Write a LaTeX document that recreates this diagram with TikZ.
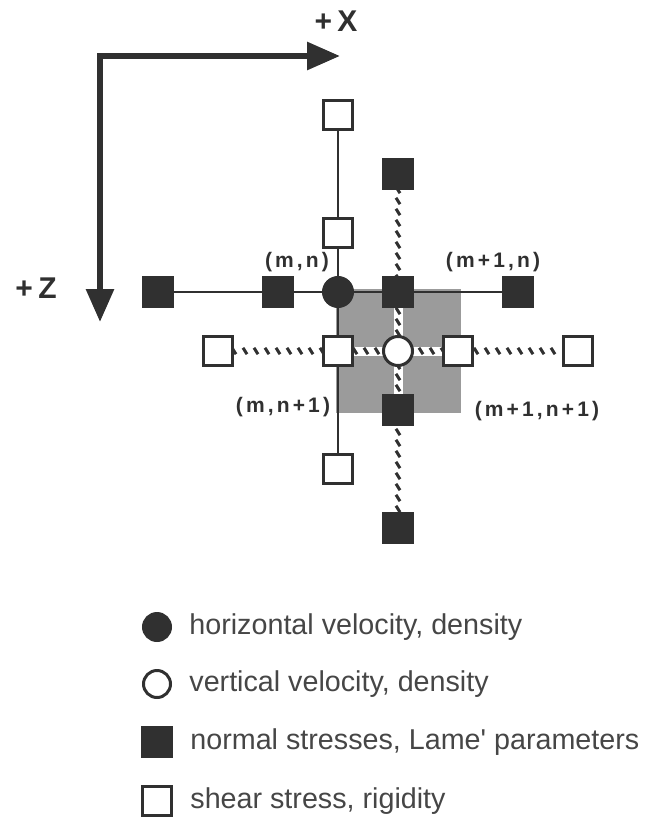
\documentclass[tikz,border=0pt]{standalone}
\usepackage{fontspec}
\setmainfont{Liberation Sans}
\usetikzlibrary{arrows.meta,positioning,decorations.markings,backgrounds}
\definecolor{ink}{RGB}{48,48,48}
\definecolor{cellgray}{RGB}{155,155,155}
\definecolor{legendink}{RGB}{70,70,70}
\tikzset{
  normal/.style={rectangle,draw=ink,fill=ink,line width=1.5pt,minimum size=14.5pt,inner sep=0pt},
  shear/.style={normal,fill=white},
  hvel/.style={circle,draw=ink,fill=ink,line width=1.5pt,minimum size=14.5pt,inner sep=0pt},
  vvel/.style={hvel,fill=white},
  gridline/.style={draw=ink,line width=1pt},
  hatched/.style={preaction={draw=white,line width=4.5pt},
    decoration={markings,mark=between positions 0 and 1 step 5.5pt with
      {\pgftransformresetnontranslations\draw[ink,line width=1.5pt] (-1pt,1.6pt) -- (1pt,-1.6pt);}},
    postaction={decorate}},
  axis/.style={draw=ink,line width=3pt,{Triangle[length=16.5pt,width=13.5pt]}-{Triangle[length=16.5pt,width=13.5pt]}},
  axlabel/.style={font=\fontsize{15}{17}\selectfont\bfseries\addfontfeature{LetterSpace=18},text=ink,inner sep=0pt},
  idx/.style={font=\fontsize{10.5}{12}\selectfont\bfseries\addfontfeature{LetterSpace=15},text=ink,inner sep=0pt},
  legtext/.style={font=\fontsize{14.35}{17}\selectfont,text=legendink,inner sep=0pt,anchor=west}
}

\begin{document}
\begin{tikzpicture}[x=0.5pt,y=-0.5pt]
  \useasboundingbox (0,0) rectangle (646,819);

  % axes
  \coordinate (corner) at (100,56);
  \coordinate (xtip) at (340,56);
  \coordinate (ztip) at (100,322);
  \draw[axis] (xtip) -- (corner) -- (ztip);
  \node[axlabel] (xlab) at (336,21) {+X};
  \node[axlabel] (zlab) at (36,288) {+Z};

  % staggered grid points
  \node[shear] (s1) at (338,115) {};
  \node[normal] (p1) at (398,174) {};
  \node[shear] (s2) at (338,233) {};
  \node[normal] (p2) at (158,292) {};
  \node[normal] (p3) at (278,292) {};
  \node[hvel] (u) at (338,292) {};
  \node[normal] (p4) at (398,292) {};
  \node[normal] (p5) at (518,292) {};
  \node[shear] (s3) at (218,351) {};
  \node[shear] (s4) at (338,351) {};
  \node[vvel] (w) at (398,351) {};
  \node[shear] (s5) at (458,351) {};
  \node[shear] (s6) at (578,351) {};
  \node[normal] (p6) at (398,410) {};
  \node[shear] (s7) at (338,469) {};
  \node[normal] (p7) at (398,528) {};

  \begin{scope}[on background layer]
    % grid cell
    \fill[cellgray] ([shift={(-2,-3)}]u.center) rectangle ([shift={(3,3)}]s5.center |- p6.center);
    \draw[gridline] (p2) -- (p5);
    \draw[gridline] (s1) -- (s7);
    \path[hatched] (p1) -- (p7);
    \path[hatched] (s3) -- (s6);
  \end{scope}

  % indices
  \node[idx] (imn) at (297,262) {(m,n)};
  \node[idx] (impn) at (493,262) {(m+1,n)};
  \node[idx] (imnp) at (283,407) {(m,n+1)};
  \node[idx] (impnp) at (537,411) {(m+1,n+1)};

  % legend
  \node[hvel,minimum size=13.5pt] (lg1) at (157,627) {};
  \node[vvel,minimum size=13.5pt] (lg2) at (157,684) {};
  \node[normal] (lg3) at (157,742) {};
  \node[shear] (lg4) at (157,801) {};
  \node[legtext,right=8.5pt of lg1] (lt1) {horizontal velocity, density};
  \node[legtext,right=8.5pt of lg2] (lt2) {vertical velocity, density};
  \node[legtext,right=8.5pt of lg3] (lt3) {normal stresses, Lame\textquotesingle{} parameters};
  \node[legtext,right=8.5pt of lg4] (lt4) {shear stress, rigidity};
\end{tikzpicture}
\end{document}
